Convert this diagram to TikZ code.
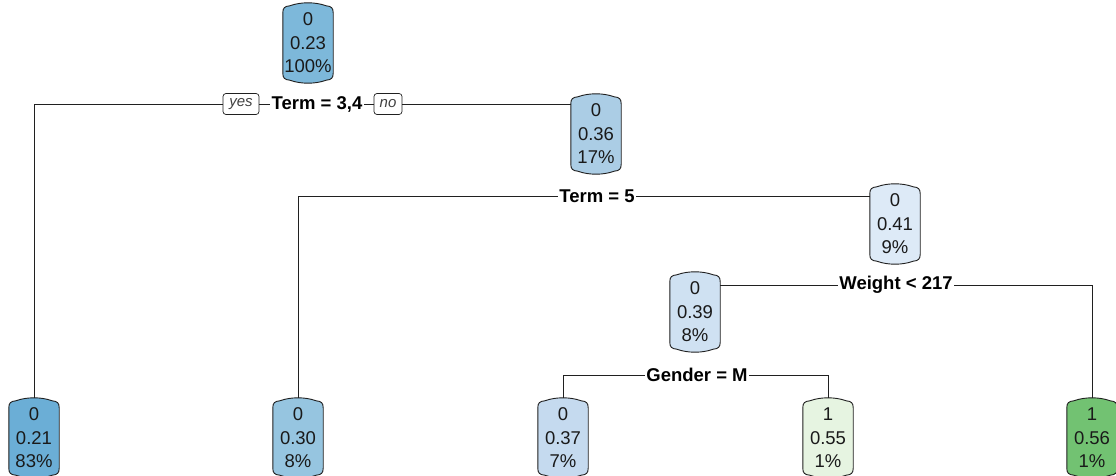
\documentclass[tikz,border=0pt]{standalone}
\usepackage{fontspec}
\setmainfont{Liberation Sans}
\usetikzlibrary{calc,backgrounds}

\definecolor{inkc}{HTML}{1A1A1A}
\definecolor{edgec}{HTML}{202020}
\definecolor{cRoot}{HTML}{7DB8DA}
\definecolor{cA}{HTML}{6BAED6}
\definecolor{cB}{HTML}{ABCDE5}
\definecolor{cC}{HTML}{96C5E0}
\definecolor{cD}{HTML}{C5DAEF}
\definecolor{cE}{HTML}{CFE1F2}
\definecolor{cF}{HTML}{DDEAF7}
\definecolor{cG}{HTML}{E6F4E1}
\definecolor{cH}{HTML}{72C272}

\tikzset{
  tnode/.style={minimum width=50pt, minimum height=80pt, inner sep=0pt,
    align=center, text=inkc, font=\fontsize{18.5}{23.5}\selectfont},
  boxline/.style={draw=edgec, line width=0.9pt},
  branch/.style={draw=edgec, line width=0.9pt},
  splitlab/.style={fill=white, inner xsep=1.5pt, inner ysep=2pt,
    font=\fontsize{18.5}{21}\selectfont\bfseries, text=black},
  yn/.style={draw=edgec, line width=0.7pt, rounded corners=3pt, fill=white,
    minimum height=21pt, inner sep=0pt, text=black!75,
    font=\fontsize{15}{17}\selectfont\itshape},
}

% rounded box with arched top and bottom, drawn round a named node
\newcommand\barrel[2]{%
  \path[boxline, fill=#2] let \p1=(#1.north west), \p2=(#1.south east) in
    (\x1,{\y1-10pt})
    .. controls (\x1,{\y1-5pt}) and ({\x1+2pt},{\y1-3.5pt}) .. ({\x1+7pt},{\y1-3pt})
    .. controls ({\x1+18pt},{\y1+1pt}) and ({\x2-18pt},{\y1+1pt}) .. ({\x2-7pt},{\y1-3pt})
    .. controls ({\x2-2pt},{\y1-3.5pt}) and (\x2,{\y1-5pt}) .. (\x2,{\y1-10pt})
    -- (\x2,{\y2+10pt})
    .. controls (\x2,{\y2+5pt}) and ({\x2-2pt},{\y2+3.5pt}) .. ({\x2-7pt},{\y2+3pt})
    .. controls ({\x2-18pt},{\y2-1pt}) and ({\x1+18pt},{\y2-1pt}) .. ({\x1+7pt},{\y2+3pt})
    .. controls ({\x1+2pt},{\y2+3.5pt}) and (\x1,{\y2+5pt}) .. (\x1,{\y2+10pt})
    -- cycle;}

\begin{document}
\begin{tikzpicture}[x=1pt,y=-1pt]
\useasboundingbox (0,0) rectangle (1116,476);

% inner nodes
\node[tnode] (root) at (308,43)  {0\\0.23\\100\%};
\node[tnode] (n2)   at (596,134) {0\\0.36\\17\%};
\node[tnode] (n3)   at (895,224) {0\\0.41\\9\%};
\node[tnode] (n4)   at (695,312) {0\\0.39\\8\%};

% leaves
\node[tnode] (l1) at (34,438)   {0\\0.21\\83\%};
\node[tnode] (l2) at (298,438)  {0\\0.30\\8\%};
\node[tnode] (l3) at (563,438)  {0\\0.37\\7\%};
\node[tnode] (l4) at (828,438)  {1\\0.55\\1\%};
\node[tnode] (l5) at (1092,438) {1\\0.56\\1\%};

\begin{pgfonlayer}{background}
  \barrel{root}{cRoot}
  \barrel{n2}{cB}
  \barrel{n3}{cF}
  \barrel{n4}{cE}
  \barrel{l1}{cA}
  \barrel{l2}{cC}
  \barrel{l3}{cD}
  \barrel{l4}{cG}
  \barrel{l5}{cH}
\end{pgfonlayer}

% split labels
\node[splitlab] (s1) at (317,104) {Term = 3,4};
\node[yn, minimum width=36pt] (yes) at (241,104) {yes};
\node[yn, minimum width=28pt] (no)  at (388,104) {no};
\node[splitlab] (s2) at (597,196) {Term = 5};
\node[splitlab] (s3) at (896,285) {Weight < 217};
\node[splitlab] (s4) at (697,375) {Gender = M};

% branches
\draw[branch] (l1.north) |- (yes.west);
\draw[branch] (yes.east) -- (s1.west);
\draw[branch] (s1.east) -- (no.west);
\draw[branch] (no.east) -- (no.east -| n2.west);

\draw[branch] (l2.north) |- (s2.west);
\draw[branch] (s2.east) -- (s2.east -| n3.west);

\draw[branch] (s3.west -| n4.east) -- (s3.west);
\draw[branch] (s3.east) -| (l5.north);

\draw[branch] (l3.north) |- (s4.west);
\draw[branch] (s4.east) -| (l4.north);
\end{tikzpicture}
\end{document}
